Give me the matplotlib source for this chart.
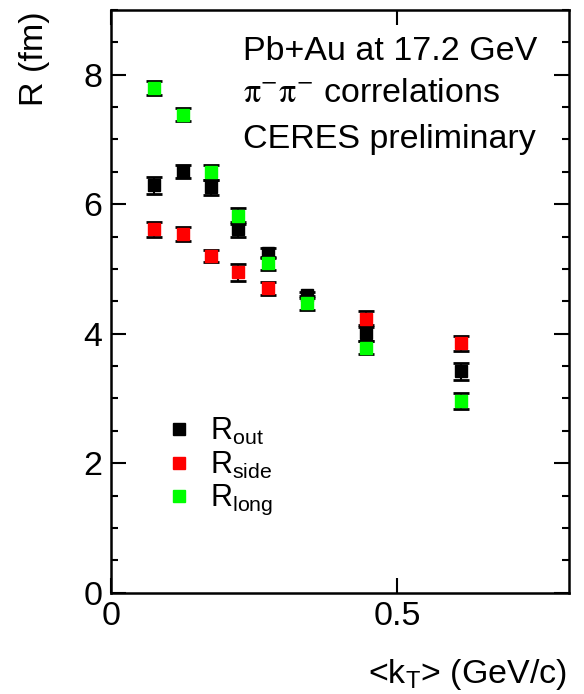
import matplotlib
matplotlib.use('Agg')
import matplotlib.pyplot as plt
from matplotlib.ticker import MultipleLocator, FixedLocator

plt.rcParams['font.family'] = ['Liberation Sans', 'DejaVu Sans']
plt.rcParams['mathtext.fontset'] = 'custom'
plt.rcParams['mathtext.rm'] = 'Liberation Sans'
plt.rcParams['mathtext.it'] = 'Liberation Sans'

# ---- data ----
kt = [0.075, 0.127, 0.175, 0.222, 0.274, 0.343, 0.446, 0.611]
r_out = [6.29, 6.51, 6.26, 5.61, 5.25, 4.60, 4.01, 3.42]
r_out_err = [0.13, 0.10, 0.12, 0.12, 0.08, 0.05, 0.13, 0.13]
kt_side = [0.075, 0.127, 0.175, 0.222, 0.274, 0.446, 0.611]
r_side = [5.61, 5.54, 5.20, 4.95, 4.70, 4.23, 3.85]
r_side_err = [0.11, 0.11, 0.10, 0.13, 0.10, 0.12, 0.12]
r_long = [7.80, 7.38, 6.49, 5.82, 5.09, 4.47, 3.78, 2.96]
r_long_err = [0.11, 0.10, 0.12, 0.12, 0.10, 0.11, 0.10, 0.12]

labels = [r'$\mathregular{R_{out}}$', r'$\mathregular{R_{side}}$', r'$\mathregular{R_{long}}$']
colors = ['black', '#ff0000', '#00ff00']
x_ticks = [0, 0.5]
x_ticklabels = ['0', '0.5']
y_ticks = [0, 2, 4, 6, 8]

fig = plt.figure(figsize=(5.84, 6.94), dpi=100)
ax = fig.add_axes([0.1896, 0.1460, 0.7847, 0.8396])

series = [(kt, r_out, r_out_err), (kt_side, r_side, r_side_err), (kt, r_long, r_long_err)]
handles = []
for (xs, ys, es), c, lab in zip(series, colors, labels):
    ax.errorbar(xs, ys, yerr=es, fmt='none', ecolor='black', elinewidth=1.5,
                capsize=6, capthick=2, zorder=2)
    h, = ax.plot(xs, ys, linestyle='none', marker='s', markersize=9,
                 color=c, markeredgecolor=c, zorder=3, label=lab)
    handles.append(h)

ax.set_xlim(0, 0.8)
ax.set_ylim(0, 9)
ax.xaxis.set_major_locator(FixedLocator(x_ticks))
ax.set_xticklabels(x_ticklabels)
ax.yaxis.set_major_locator(FixedLocator(y_ticks))
ax.yaxis.set_minor_locator(MultipleLocator(0.5))

ax.tick_params(axis='both', which='both', direction='in', top=True, right=True,
               width=1.5, labelsize=24.5, pad=6)
ax.tick_params(axis='both', which='major', length=11)
ax.tick_params(axis='both', which='minor', length=5)
for s in ax.spines.values():
    s.set_linewidth(1.8)

ax.set_xlabel(r'<k$_\mathregular{T}$> (GeV/c)', fontsize=24.5, loc='right')
ax.xaxis.set_label_coords(0.9956, -0.110)
ax.set_ylabel('R (fm)', fontsize=24.5, loc='top')
ax.yaxis.set_label_coords(-0.132, 0.998)

ax.text(0.289, 0.914, 'Pb+Au at 17.2 GeV', transform=ax.transAxes,
        fontsize=24.5, ha='left', va='baseline')
ax.text(0.289, 0.842, r'$\mathrm{\pi^{-}\pi^{-}}$ correlations', transform=ax.transAxes,
        fontsize=24.5, ha='left', va='baseline', math_fontfamily='stix')
ax.text(0.289, 0.763, 'CERES preliminary', transform=ax.transAxes,
        fontsize=24.5, ha='left', va='baseline')

ax.legend(handles=handles, loc='upper left', bbox_to_anchor=(0.13, 0.303),
          frameon=False, fontsize=22, handlelength=0.6, handletextpad=0.7,
          labelspacing=0.08, borderpad=0, borderaxespad=0)

fig.savefig('out.png', dpi=100)
